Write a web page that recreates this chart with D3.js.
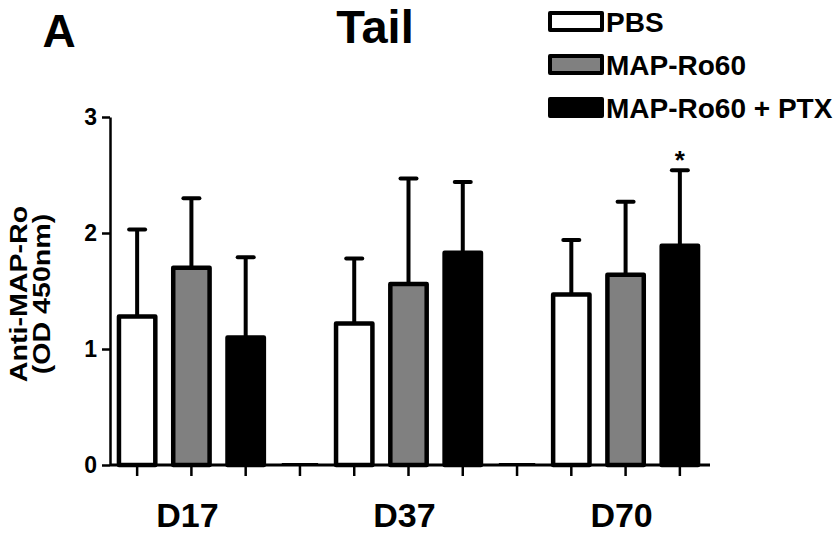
<!DOCTYPE html>
<html>
<head>
<meta charset="utf-8">
<script src="https://cdn.jsdelivr.net/npm/d3@7"></script>
<style>
  body { margin: 0; background: #fff; }
  text { font-family: "Liberation Sans", Arial, sans-serif; font-weight: bold; fill: #000; }
</style>
</head>
<body>
<div id="chart"></div>
<script>
// data
const days = ["D17", "D37", "D70"];
const groups = ["PBS", "MAP-Ro60", "MAP-Ro60 + PTX"];
const fills = ["#ffffff", "#808080", "#000000"];
const means = {
  "PBS":            [1.28, 1.22, 1.47],
  "MAP-Ro60":       [1.70, 1.56, 1.64],
  "MAP-Ro60 + PTX": [1.10, 1.83, 1.89]
};
const errTops = {
  "PBS":            [2.03, 1.78, 1.94],
  "MAP-Ro60":       [2.30, 2.47, 2.27],
  "MAP-Ro60 + PTX": [1.79, 2.44, 2.54]
};
const yTicks = [0, 1, 2, 3];
const starred = [{ day: "D70", group: "MAP-Ro60 + PTX" }];

const width = 837, height = 534;
const margin = { top: 117, right: 130, bottom: 69, left: 110 };

const svg = d3.select("#chart").append("svg")
  .attr("width", width)
  .attr("height", height);

// slots: three bars per day, with an empty slot between days
let slots = [];
days.forEach((d, i) => {
  groups.forEach((g, j) => slots.push({ key: d + "|" + g, day: d, group: g, gi: j }));
  if (i < days.length - 1) slots.push({ key: d + "|gap", day: d, group: null, gi: -1 });
});

const x = d3.scaleBand()
  .domain(slots.map(s => s.key))
  .range([margin.left, width - margin.right])
  .paddingInner(0.33)
  .paddingOuter(0.165);

const y = d3.scaleLinear()
  .domain([0, 3])
  .range([height - margin.bottom, margin.top]);

const bars = [];
slots.forEach(s => {
  if (s.group) {
    const k = days.indexOf(s.day);
    bars.push({ key: s.key, day: s.day, group: s.group, gi: s.gi, v: means[s.group][k], e: errTops[s.group][k] });
  }
});

// error bars (upper only), drawn behind bars
const err = svg.append("g");
err.selectAll(".ev").data(bars).enter().append("line")
  .attr("x1", d => x(d.key) + x.bandwidth() / 2)
  .attr("x2", d => x(d.key) + x.bandwidth() / 2)
  .attr("y1", d => y(d.v))
  .attr("y2", d => y(d.e))
  .attr("stroke", "#000").attr("stroke-width", 4);
err.selectAll(".ec").data(bars).enter().append("line")
  .attr("x1", d => x(d.key) + x.bandwidth() / 2 - 8)
  .attr("x2", d => x(d.key) + x.bandwidth() / 2 + 8)
  .attr("y1", d => y(d.e))
  .attr("y2", d => y(d.e))
  .attr("stroke", "#000").attr("stroke-width", 4)
  .attr("stroke-linecap", "round");

// bars
svg.append("g").selectAll("rect").data(bars).enter().append("rect")
  .attr("x", d => x(d.key))
  .attr("y", d => y(d.v))
  .attr("width", x.bandwidth())
  .attr("height", d => y(0) - y(d.v))
  .attr("fill", d => fills[d.gi])
  .attr("stroke", "#000")
  .attr("stroke-width", 4.5)
  .attr("stroke-linejoin", "round");

// empty slots show as a flat zero bar
svg.append("g").selectAll("line").data(slots.filter(s => !s.group)).enter().append("line")
  .attr("x1", d => x(d.key))
  .attr("x2", d => x(d.key) + x.bandwidth())
  .attr("y1", y(0) - 1)
  .attr("y2", y(0) - 1)
  .attr("stroke", "#000").attr("stroke-width", 2);

// axes
const xAxis = svg.append("g")
  .attr("transform", `translate(0,${y(0)})`)
  .call(d3.axisBottom(x).tickFormat("").tickSize(11).tickSizeOuter(0));
xAxis.select(".domain").attr("stroke-width", 3).attr("d", `M${margin.left},0H${width - margin.right + 3}`);
xAxis.selectAll(".tick line").attr("stroke-width", 2.5);

const yAxis = svg.append("g")
  .attr("transform", `translate(${margin.left},0)`)
  .call(d3.axisLeft(y).tickValues(yTicks).tickFormat(d3.format("d")).tickSize(8).tickSizeOuter(0));
yAxis.select(".domain").attr("stroke-width", 2.5);
yAxis.selectAll(".tick line").attr("stroke-width", 2.5);
yAxis.selectAll(".tick text")
  .attr("x", -13)
  .style("font-size", "23px")
  .style("font-family", "'Liberation Sans', Arial, sans-serif")
  .style("font-weight", "bold");

// day labels under the middle bar of each group
svg.append("g").selectAll("text").data(days).enter().append("text")
  .attr("x", d => x(d + "|" + groups[1]) + x.bandwidth() / 2 - 4)
  .attr("y", 527)
  .attr("text-anchor", "middle")
  .style("font-size", "34px")
  .text(d => d);

// significance star
svg.append("g").selectAll("text").data(starred).enter().append("text")
  .attr("x", d => x(d.day + "|" + d.group) + x.bandwidth() / 2)
  .attr("y", d => y(errTops[d.group][days.indexOf(d.day)]) - 1)
  .attr("text-anchor", "middle")
  .style("font-size", "26px")
  .text("*");

// y axis title
const yt = svg.append("text")
  .attr("transform", `translate(27,${(y(0) + y(3)) / 2 + 3}) rotate(-90) scale(1.1,0.92)`)
  .attr("text-anchor", "middle")
  .style("font-size", "26px");
yt.append("tspan").attr("x", 0).attr("dy", 0).text("Anti-MAP-Ro");
yt.append("tspan").attr("x", 0).attr("dy", 25).text("(OD 450nm)");

// title and panel letter
svg.append("text").attr("x", 59).attr("y", 47).attr("text-anchor", "middle")
  .style("font-size", "46px").text("A");
svg.append("text").attr("x", 375).attr("y", 43).attr("text-anchor", "middle")
  .style("font-size", "47px").text("Tail");

// legend
const leg = svg.append("g").selectAll("g").data(groups).enter().append("g")
  .attr("transform", (d, i) => `translate(550,${13 + i * 43})`);
leg.append("rect")
  .attr("width", 52).attr("height", 17)
  .attr("fill", (d, i) => fills[i])
  .attr("stroke", "#000").attr("stroke-width", 4)
  .attr("stroke-linejoin", "round");
leg.append("text")
  .attr("x", 56).attr("y", 19)
  .style("font-size", "28px")
  .text(d => d);
</script>
</body>
</html>
